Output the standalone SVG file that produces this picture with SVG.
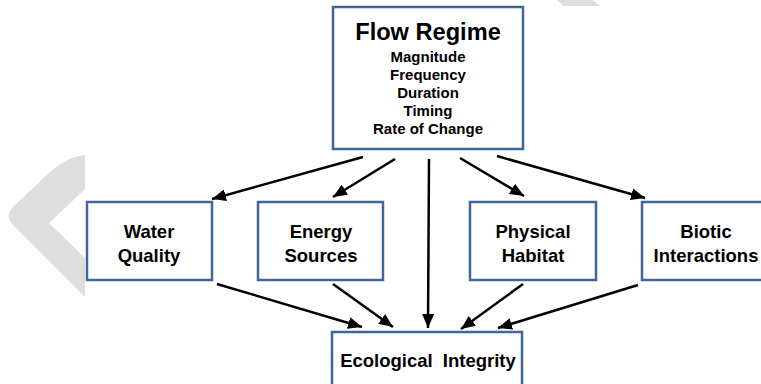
<svg xmlns="http://www.w3.org/2000/svg" width="761" height="384" viewBox="0 0 761 384">
<style>
.box{fill:#fff;stroke:#41669b;stroke-width:2.5}
.t{font-family:"Liberation Sans",Arial,sans-serif;font-weight:bold;fill:#000;text-anchor:middle}
.lbl{font-size:18.5px}
.sub{font-size:15px}
.title{font-size:23.6px}
.wm{fill:#dedede}
.c line{stroke:#000;stroke-width:2.5;marker-end:url(#ah)}
</style>
<defs>
<marker id="ah" markerUnits="userSpaceOnUse" markerWidth="15" markerHeight="12" refX="14" refY="6" orient="auto" viewBox="0 0 15 12">
<path d="M0,0 L14,6 L0,12 Z" fill="#000"/>
</marker>
</defs>
<rect width="761" height="384" fill="#fff"/>
<g id="watermark">
<path class="wm" d="M85,155 Q66,157 50,172 L12,208 Q5,216 12,224 L85,297 L85,258 L49,223 L85,189 Z"/>
<path class="wm" d="M557,0 L593,0 L600,6 L563,6 Z"/>
</g>
<g class="c" id="connectors">
<line x1="363" y1="157" x2="212" y2="199"/>
<line x1="395" y1="159" x2="333" y2="197"/>
<line x1="429" y1="159" x2="428" y2="328"/>
<line x1="460" y1="158" x2="524" y2="196"/>
<line x1="497" y1="156" x2="645" y2="198"/>
<line x1="217" y1="284" x2="362" y2="327"/>
<line x1="333" y1="284" x2="393" y2="327"/>
<line x1="523" y1="284" x2="461" y2="329"/>
<line x1="638" y1="285" x2="498" y2="328"/>
</g>
<g id="flow-regime">
<rect class="box" x="333" y="7" width="190" height="142"/>
<text class="t title" x="428" y="39.5">Flow Regime</text>
<text class="t sub" x="428" y="61.5">Magnitude</text>
<text class="t sub" x="428" y="79.7">Frequency</text>
<text class="t sub" x="428" y="97.9">Duration</text>
<text class="t sub" x="428" y="116.1">Timing</text>
<text class="t sub" x="428" y="134.3">Rate of Change</text>
</g>
<g id="water-quality">
<rect class="box" x="87" y="202" width="125" height="78"/>
<text class="t lbl" x="149" y="238">Water</text>
<text class="t lbl" x="149" y="261.5">Quality</text>
</g>
<g id="energy-sources">
<rect class="box" x="258" y="202" width="125" height="78"/>
<text class="t lbl" x="321" y="238">Energy</text>
<text class="t lbl" x="321" y="261.5">Sources</text>
</g>
<g id="physical-habitat">
<rect class="box" x="470" y="202" width="126" height="78"/>
<text class="t lbl" x="533" y="238">Physical</text>
<text class="t lbl" x="533" y="261.5">Habitat</text>
</g>
<g id="biotic-interactions">
<rect class="box" x="642" y="202" width="128" height="78"/>
<text class="t lbl" x="706" y="238">Biotic</text>
<text class="t lbl" x="706" y="261.5">Interactions</text>
</g>
<g id="ecological-integrity">
<rect class="box" x="332" y="332" width="190" height="60"/>
<text class="t lbl" x="428" y="366.7" word-spacing="5">Ecological Integrity</text>
</g>
</svg>
